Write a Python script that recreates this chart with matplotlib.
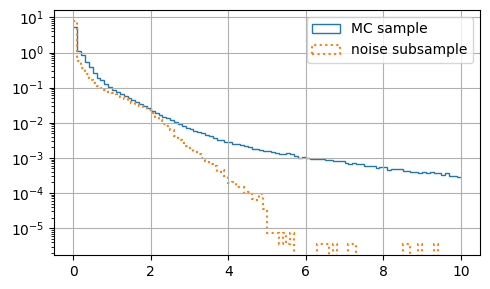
"""Step histograms (density, log y) of the MC sample and the noise subsample,
100 bins of width 0.1 on [0, 10].

Output: out.png
"""

import matplotlib

matplotlib.use("Agg")
import matplotlib.pyplot as plt
import numpy as np
from matplotlib.patches import Patch

BIN_EDGES = np.linspace(0.0, 10.0, 101)

# density per bin
MC_DENSITY = [
    5.2, 1.11, 0.86, 0.55, 0.375, 0.265, 0.19, 0.16, 0.127, 0.102,
    0.086, 0.074, 0.065, 0.057, 0.050, 0.045, 0.039, 0.034, 0.030, 0.026,
    0.0214, 0.0184, 0.0165, 0.0147, 0.0133, 0.0119, 0.0106, 0.0095, 0.0082, 0.0072,
    0.0065, 0.0058, 0.0053, 0.00495, 0.0045, 0.00415, 0.0038, 0.00334, 0.00313, 0.00293,
    0.00275, 0.00257, 0.0025, 0.0024, 0.0022, 0.00202, 0.00185, 0.0018, 0.00169, 0.00162,
    0.00155, 0.00148, 0.00139, 0.00127, 0.00127, 0.00136, 0.00127, 0.00114, 0.00102, 0.00107,
    0.0010, 0.00096, 0.00093, 0.00096, 0.00096, 0.00086, 0.00086, 0.00081, 0.00081, 0.00081,
    0.00072, 0.00068, 0.00070, 0.00066, 0.00066, 0.00058, 0.00058, 0.00058, 0.00051, 0.000555,
    0.000555, 0.00045, 0.000475, 0.000475, 0.000475, 0.00042, 0.000435, 0.00040, 0.00040, 0.000375,
    0.00039, 0.000375, 0.00039, 0.000365, 0.000365, 0.00032, 0.00036, 0.00030, 0.00030, 0.00029,
]

NOISE_DENSITY = [
    7.9, 0.58, 0.36, 0.25, 0.165, 0.137, 0.113, 0.095, 0.083, 0.075,
    0.069, 0.064, 0.055, 0.048, 0.042, 0.037, 0.032, 0.030, 0.026, 0.023,
    0.019, 0.0147, 0.012, 0.0095, 0.008, 0.0064, 0.0042, 0.0032, 0.0027, 0.0022,
    0.00186, 0.00148, 0.00125, 0.0010, 0.00082, 0.00069, 0.00058, 0.00040, 0.00046, 0.00031,
    0.000195, 0.00021, 0.00015, 0.000152, 0.0001, 0.000104, 6.6e-5, 6.3e-5, 9.5e-5, 3.5e-5,
    7.2e-6, 7.2e-6, 7.2e-6, 3.6e-6, 7.2e-6, 3.6e-6, 7.2e-6, 0, 0, 0,
    0, 0, 0, 3.6e-6, 3.6e-6, 3.6e-6, 0, 3.6e-6, 0, 0,
    0, 3.6e-6, 3.6e-6, 0, 0, 0, 0, 0, 0, 0,
    0, 0, 0, 0, 0, 3.6e-6, 3.6e-6, 0, 0, 3.6e-6,
    0, 0, 0, 3.6e-6, 0, 0, 0, 0, 0, 0,
]


def main() -> None:
    fig, ax = plt.subplots(figsize=(4.9, 2.89), dpi=100)
    ax.set_yscale("log")
    # baseline=None: no closing verticals at the outer bin edges
    ax.stairs(MC_DENSITY, BIN_EDGES, baseline=None, color="C0")
    ax.stairs(NOISE_DENSITY, BIN_EDGES, baseline=None, color="C1",
              linestyle=":", linewidth=1.5)
    ax.grid(True)
    # hist-style box handles for the legend
    handles = [
        Patch(fill=False, edgecolor="C0", label="MC sample"),
        Patch(fill=False, edgecolor="C1", linestyle=":", linewidth=1.5,
              label="noise subsample"),
    ]
    ax.legend(handles=handles, loc="upper right")
    fig.subplots_adjust(left=0.110, right=0.980, bottom=0.118, top=0.966)
    fig.savefig("out.png")


if __name__ == "__main__":
    main()
